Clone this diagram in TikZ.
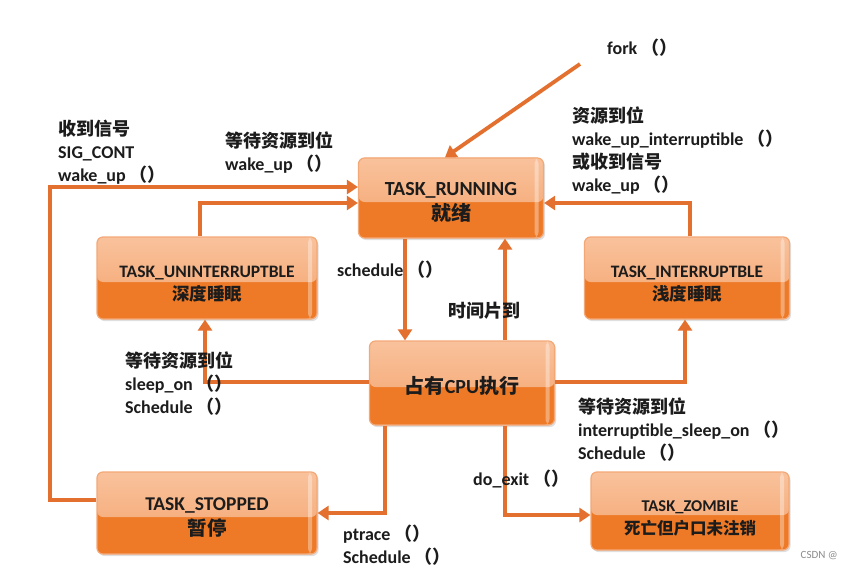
\documentclass[tikz,border=0pt]{standalone}
\usepackage{fontspec}
\setmainfont{Carlito}
\newfontfamily\cjk{Noto Sans CJK SC}
\usetikzlibrary{arrows.meta,shadows}
\definecolor{boxlow}{HTML}{EE7A27}
\definecolor{boxtopA}{HTML}{F9C29C}
\definecolor{boxtopB}{HTML}{F4A26B}
\definecolor{boxedge}{HTML}{F3A877}
\definecolor{arr}{HTML}{E4702F}
\definecolor{txt}{HTML}{1C1C1C}
\newcommand{\zh}[1]{{\cjk #1}}
\newcommand{\boxtext}[3]{\raisebox{#1}[\height][\depth]{\begin{tabular}{@{}c@{}}#2\\[-1pt]\zh{#3}\end{tabular}}}
\tikzset{
  box/.style={draw=boxedge, line width=1.2pt, rounded corners=6pt, fill=boxlow,
    text=txt, align=center, inner sep=0pt,
    drop shadow={shadow xshift=1.5pt, shadow yshift=-2pt, fill=black!35, opacity=0.35},
    path picture={\shade[top color=boxtopA, bottom color=boxtopB]
      (path picture bounding box.north west) rectangle ([yshift=-4pt]path picture bounding box.east);
      \fill[white, opacity=0.35] ([xshift=-9pt]path picture bounding box.north east) rectangle ([xshift=-5pt]path picture bounding box.south east);}},
  lbl/.style={anchor=north west, align=left, text=txt, font=\fontsize{18}{23}\selectfont\bfseries, inner sep=0pt},
  conn/.style={draw=arr, line width=3.8pt, -{Triangle[width=14pt,length=11pt]}}
}
\begin{document}
\begin{tikzpicture}[x=1pt,y=-1pt]
\useasboundingbox[fill=white] (0,0) rectangle (842,580);

% boxes
\node[box, minimum width=185pt, minimum height=80pt,
  font=\fontsize{20}{26}\selectfont\bfseries] (run) at (451,198)
  {\boxtext{-5pt}{TASK\_RUNNING}{就绪}};
\node[box, minimum width=220pt, minimum height=82pt,
  font=\fontsize{17.5}{24}\selectfont\bfseries] (unint) at (207,278)
  {\boxtext{-6pt}{TASK\_UNINTERRUPTBLE}{深度睡眠}};
\node[box, minimum width=205pt, minimum height=82pt,
  font=\fontsize{17.5}{24}\selectfont\bfseries] (inter) at (687,278)
  {\boxtext{-6pt}{TASK\_INTERRUPTBLE}{浅度睡眠}};
\node[box, minimum width=185pt, minimum height=84pt,
  font=\fontsize{20}{26}\selectfont\bfseries] (cpu) at (462,383)
  {\raisebox{-3pt}[\height][\depth]{\zh{占有}CPU\zh{执行}}};
\node[box, minimum width=220pt, minimum height=82pt,
  font=\fontsize{19.5}{26}\selectfont\bfseries] (stop) at (207,513)
  {\boxtext{-5pt}{TASK\_STOPPED}{暂停}};
\node[box, minimum width=198pt, minimum height=78pt,
  font=\fontsize{16.5}{24}\selectfont\bfseries] (zomb) at (690,511)
  {\boxtext{-7pt}{TASK\_ZOMBIE}{死亡但户口未注销}};

% connectors
\coordinate (forkpt) at (580,64);
\draw[conn] (forkpt) -- ([xshift=-6pt]run.north);
\draw[conn] ([yshift=13pt]stop.west) -- (50,500) -- (50,187) -- (run.west |- 0,187);
\draw[conn] (unint.north -| 200,0) -- (200,203) -- (run.west |- 0,203);
\draw[conn] (inter.north -| 690,0) -- (690,203) -- (run.east |- 0,203);
\draw[conn] (run.south -| 405,0) -- (cpu.north -| 405,0);
\draw[conn] (cpu.north -| 505,0) -- (run.south -| 505,0);
\draw[conn] (cpu.west |- 0,382) -| (unint.south -| 205,0);
\draw[conn] (cpu.east |- 0,382) -| (inter.south -| 685,0);
\draw[conn] (cpu.south -| 385,0) |- (stop.east |- 0,513);
\draw[conn] (cpu.south -| 505,0) |- (zomb.west |- 0,515);

% labels
\node[lbl] (lfork) at (607,39) {fork \zh{（）}};
\node[lbl] (lsig) at (58,120) {\zh{收到信号}\\SIG\_CONT\\wake\_up \zh{（）}};
\node[lbl] (lwait1) at (225,132) {\zh{等待资源到位}\\wake\_up \zh{（）}};
\node[lbl] (lres) at (572,107) {\zh{资源到位}\\wake\_up\_interruptible \zh{（）}\\\zh{或收到信号}\\wake\_up \zh{（）}};
\node[lbl] (lsched) at (337,261) {schedule \zh{（）}};
\node[lbl] (ltime) at (448,302) {\zh{时间片到}};
\node[lbl] (lsleep) at (125,352) {\zh{等待资源到位}\\sleep\_on \zh{（）}\\Schedule \zh{（）}};
\node[lbl] (lisleep) at (578,398) {\zh{等待资源到位}\\interruptible\_sleep\_on \zh{（）}\\Schedule \zh{（）}};
\node[lbl] (lptrace) at (343,525) {ptrace \zh{（）}\\Schedule \zh{（）}};
\node[lbl] (lexit) at (473,470) {do\_exit \zh{（）}};
\node[anchor=south east, text=black!45, font=\fontsize{11}{13}\selectfont, inner sep=0pt] (wm) at (838,560) {CSDN @};
\end{tikzpicture}
\end{document}
